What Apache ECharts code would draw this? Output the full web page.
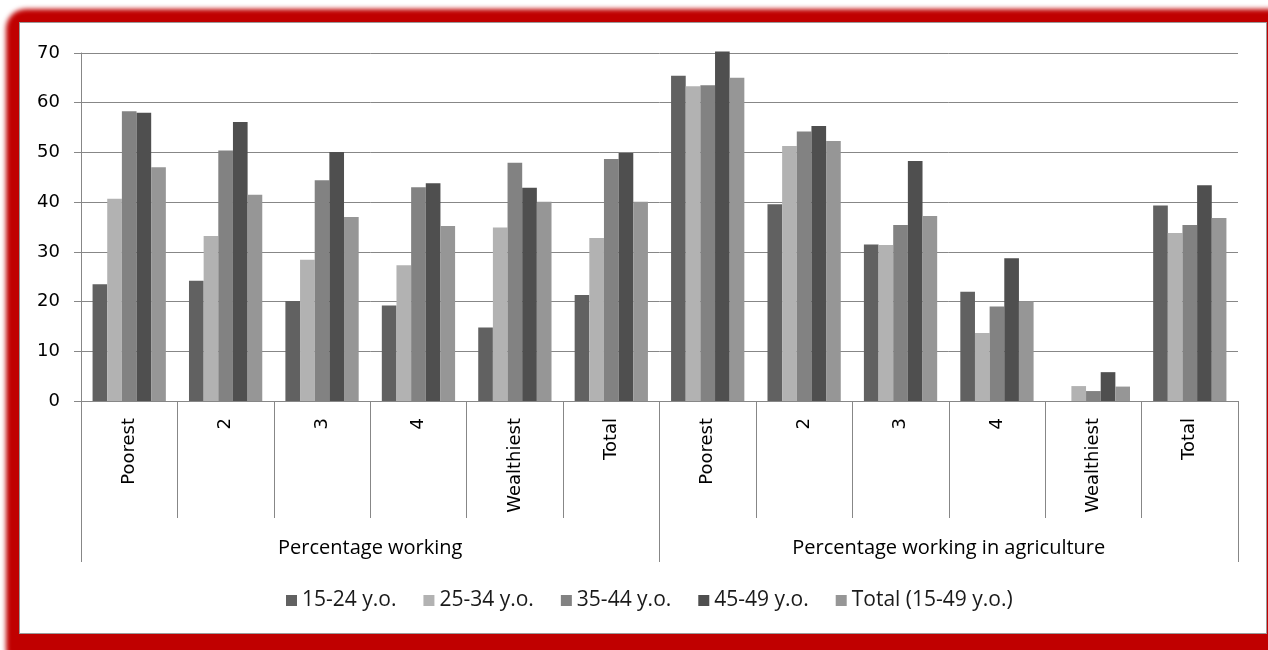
<!DOCTYPE html>
<html>
<head>
<meta charset="utf-8">
<script src="https://cdn.jsdelivr.net/npm/echarts@6/dist/echarts.min.js"></script>
<style>
  html, body { margin: 0; padding: 0; background: #ffffff; width: 1268px; height: 650px; overflow: hidden; }
  #frame {
    position: absolute; left: 6px; top: 9px; width: 1300px; height: 660px;
    background: #c00000; border-radius: 20px; filter: blur(2.5px);
  }
  #panel {
    position: absolute; left: 19px; top: 22px; width: 1246px; height: 610px;
    background: #ffffff; border: 1px solid #9a9a9a;
  }
  #chart { position: absolute; left: 0; top: 0; width: 1268px; height: 650px; }
</style>
</head>
<body>
<div id="frame"></div>
<div id="panel"></div>
<div id="chart"></div>
<script>
// Wealth quintile categories, repeated for each indicator group
const categories = ['Poorest', '2', '3', '4', 'Wealthiest', 'Total',
                    'Poorest', '2', '3', '4', 'Wealthiest', 'Total'];
const groups = ['Percentage working', 'Percentage working in agriculture'];
const yTicks = [0, 10, 20, 30, 40, 50, 60, 70];

// Values per age group (first six: working, last six: working in agriculture)
const age15_24 = [23.5, 24.2, 20.1, 19.2, 14.8, 21.3, 65.4, 39.6, 31.5, 22.0, null, 39.3];
const age25_34 = [40.7, 33.2, 28.4, 27.3, 34.9, 32.8, 63.3, 51.3, 31.4, 13.7, 3.0, 33.8];
const age35_44 = [58.3, 50.4, 44.4, 43.0, 47.9, 48.7, 63.5, 54.2, 35.4, 19.0, 2.0, 35.4];
const age45_49 = [58.0, 56.1, 50.1, 43.8, 42.9, 49.9, 70.3, 55.3, 48.3, 28.7, 5.8, 43.4];
const ageTotal = [47.0, 41.5, 37.0, 35.2, 40.1, 40.1, 65.0, 52.3, 37.2, 20.0, 2.9, 36.8];

const seriesNames = ['15-24 y.o.', '25-34 y.o.', '35-44 y.o.', '45-49 y.o.', 'Total (15-49 y.o.)'];
const seriesValues = [age15_24, age25_34, age35_44, age45_49, ageTotal];
const seriesColors = ['#616161', '#b2b2b2', '#828282', '#4f4f4f', '#969696'];

const axisGray = '#878787';
const labelFont = 'DejaVu Sans';
const textFont = 'Open Sans';

const chart = echarts.init(document.getElementById('chart'), null, { renderer: 'canvas' });

chart.setOption({
  animation: false,
  backgroundColor: 'transparent',
  grid: { left: 81, right: 30, top: 53, bottom: 249, containLabel: false },
  legend: {
    left: 286, top: 590, padding: 0,
    itemWidth: 11, itemHeight: 11, itemGap: 27,
    icon: 'rect',
    textStyle: { fontFamily: textFont, fontSize: 21, color: '#1a1a1a' },
    data: seriesNames
  },
  xAxis: [
    {
      type: 'category',
      data: categories,
      position: 'bottom',
      boundaryGap: true,
      axisLine: { show: true, lineStyle: { color: axisGray, width: 1 } },
      axisTick: { show: true, interval: 0, length: 117, lineStyle: { color: axisGray, width: 1 } },
      axisLabel: {
        interval: 0, rotate: 90, margin: 17,
        fontFamily: labelFont, fontSize: 18, color: '#000000'
      },
      splitLine: { show: false }
    },
    {
      type: 'category',
      data: groups,
      position: 'bottom',
      boundaryGap: true,
      axisLine: { show: false },
      axisTick: { show: true, interval: 0, length: 161, lineStyle: { color: axisGray, width: 1 } },
      axisLabel: {
        interval: 0, margin: 136,
        fontFamily: textFont, fontSize: 20, color: '#000000', lineHeight: 23
      },
      splitLine: { show: false }
    }
  ],
  yAxis: {
    type: 'value',
    min: yTicks[0],
    max: yTicks[yTicks.length - 1],
    interval: 10,
    axisLine: { show: true, lineStyle: { color: axisGray, width: 1 } },
    axisTick: { show: true, length: 7, lineStyle: { color: axisGray, width: 1 } },
    axisLabel: { margin: 21, fontFamily: labelFont, fontSize: 18, color: '#000000' },
    splitLine: { show: true, lineStyle: { color: axisGray, width: 1 } }
  },
  series: seriesNames.map((name, i) => ({
    name: name,
    type: 'bar',
    xAxisIndex: 0,
    yAxisIndex: 0,
    data: seriesValues[i],
    barGap: '0%',
    barCategoryGap: '24%',
    clip: false,
    itemStyle: { color: seriesColors[i] }
  }))
});
</script>
</body>
</html>
